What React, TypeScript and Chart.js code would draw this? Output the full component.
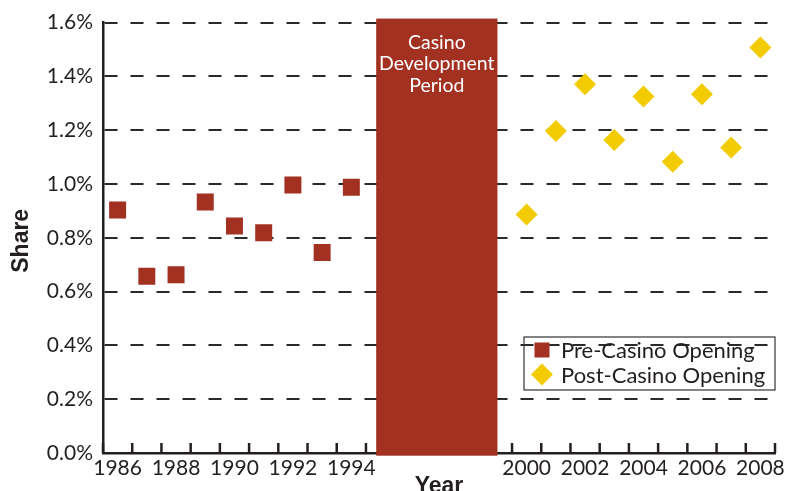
import React, { useEffect, useRef } from 'react';
import { Chart, registerables } from 'chart.js';

Chart.register(...registerables);

// ---- data ----
const preYears = [1986, 1987, 1988, 1989, 1990, 1991, 1992, 1993, 1994];
const preShare = [0.903, 0.657, 0.663, 0.933, 0.844, 0.819, 0.996, 0.745, 0.988];
const postYears = [2000, 2001, 2002, 2003, 2004, 2005, 2006, 2007, 2008];
const postShare = [0.887, 1.197, 1.371, 1.164, 1.325, 1.083, 1.334, 1.136, 1.507];
const xTickYears = [1986, 1988, 1990, 1992, 1994, 2000, 2002, 2004, 2006, 2008];
const yTickValues = [0, 0.2, 0.4, 0.6, 0.8, 1.0, 1.2, 1.4, 1.6];
const seriesNames = ['Pre-Casino Opening', 'Post-Casino Opening'];
const periodStart = 1994.85;
const periodEnd = 1999.0;
const periodLabel = ['Casino', 'Development', 'Period'];
const xTitle = 'Year';
const yTitle = 'Share';

const RED = '#a23122';
const YELLOW = '#f2cb00';
const INK = '#231f20';
const FONT = 'Lato, "Open Sans", sans-serif';
const BOLD_FONT = '"Liberation Sans", Arial, sans-serif';

const overlayPlugin = {
  id: 'overlay',
  beforeDatasetsDraw(chart: any) {
    const { ctx, chartArea, scales } = chart;
    const x = scales.x;
    const y = scales.y;
    ctx.save();
    // inward tick marks at year boundaries
    ctx.strokeStyle = INK;
    ctx.lineWidth = 2.5;
    for (let v = x.min; v <= x.max + 1e-9; v += 1) {
      const px = x.getPixelForValue(v);
      ctx.beginPath();
      ctx.moveTo(px, chartArea.bottom);
      ctx.lineTo(px, chartArea.bottom - 10);
      ctx.stroke();
    }
    // development period band
    const left = x.getPixelForValue(periodStart);
    const right = x.getPixelForValue(periodEnd);
    const top = y.getPixelForValue(1.615);
    const bottom = y.getPixelForValue(-0.01);
    ctx.fillStyle = RED;
    ctx.fillRect(left, top, right - left, bottom - top);
    ctx.fillStyle = '#ffffff';
    ctx.font = `19.5px ${FONT}`;
    ctx.textAlign = 'center';
    ctx.textBaseline = 'middle';
    periodLabel.forEach((t, i) => ctx.fillText(t, (left + right) / 2, top + 24 + i * 21.5));

    // legend (inside plot, no fill)
    const bx2 = chartArea.right;
    const bx1 = bx2 - 251;
    const by1 = chartArea.bottom - 116;
    const bh = 53;
    ctx.strokeStyle = '#333';
    ctx.lineWidth = 1.2;
    ctx.strokeRect(bx1, by1, bx2 - bx1, bh);
    const mx = bx1 + 18;
    ctx.fillStyle = RED;
    ctx.fillRect(mx - 7.5, by1 + 13 - 7.5, 15, 15);
    const dy = by1 + 37.5;
    ctx.fillStyle = YELLOW;
    ctx.beginPath();
    ctx.moveTo(mx, dy - 11);
    ctx.lineTo(mx + 11, dy);
    ctx.lineTo(mx, dy + 11);
    ctx.lineTo(mx - 11, dy);
    ctx.closePath();
    ctx.fill();
    ctx.fillStyle = INK;
    ctx.font = `22px ${FONT}`;
    ctx.textAlign = 'left';
    ctx.textBaseline = 'middle';
    ctx.fillText(seriesNames[0], bx1 + 37, by1 + 14);
    ctx.fillText(seriesNames[1], bx1 + 37, by1 + 39);
    ctx.restore();
  },
  afterDraw(chart: any) {
    const { ctx, chartArea } = chart;
    ctx.save();
    ctx.fillStyle = INK;
    ctx.font = `bold 23px ${BOLD_FONT}`;
    ctx.textAlign = 'center';
    ctx.textBaseline = 'middle';
    ctx.fillText(xTitle, (chartArea.left + chartArea.right) / 2, chartArea.bottom + 34);
    ctx.translate(22, (chartArea.top + chartArea.bottom) / 2 + 3);
    ctx.rotate(-Math.PI / 2);
    ctx.fillText(yTitle, 0, 0);
    ctx.restore();
  },
};

export default function App() {
  const ref = useRef<HTMLCanvasElement | null>(null);
  useEffect(() => {
    if (!ref.current) return;
    const chart = new Chart(ref.current, {
      type: 'scatter',
      data: {
        datasets: [
          {
            label: seriesNames[0],
            data: preYears.map((yr, i) => ({ x: yr, y: preShare[i] })),
            pointStyle: 'rect',
            pointRadius: 12,
            pointHoverRadius: 12,
            backgroundColor: RED,
            borderColor: RED,
            borderWidth: 0,
          },
          {
            label: seriesNames[1],
            data: postYears.map((yr, i) => ({ x: yr, y: postShare[i] })),
            pointStyle: 'rectRot',
            pointRadius: 11,
            pointHoverRadius: 11,
            backgroundColor: YELLOW,
            borderColor: YELLOW,
            borderWidth: 0,
          },
        ],
      },
      options: {
        responsive: false,
        animation: false,
        events: [],
        layout: { padding: { top: 16, right: 17, left: 0, bottom: 0 } },
        plugins: { legend: { display: false }, tooltip: { enabled: false } },
        scales: {
          x: {
            type: 'linear',
            min: 1985.5,
            max: 2008.5,
            afterBuildTicks: (s: any) => {
              s.ticks = xTickYears.map((v) => ({ value: v }));
            },
            afterFit: (s: any) => {
              s.height = 38;
            },
            grid: { display: false, drawTicks: false },
            border: { display: true, color: INK, width: 2.5 },
            ticks: {
              autoSkip: false,
              maxRotation: 0,
              padding: 3,
              color: INK,
              font: { family: FONT, size: 21 },
              callback: (v: any) => String(v),
            },
          },
          y: {
            min: 0,
            max: 1.6,
            afterBuildTicks: (s: any) => {
              s.ticks = yTickValues.map((v) => ({ value: v }));
            },
            afterFit: (s: any) => {
              s.width = 103;
            },
            grid: { color: '#2a2a2a', lineWidth: 2, drawTicks: false },
            border: { display: true, color: INK, width: 2.5, dash: [13, 13] },
            ticks: {
              padding: 10,
              color: INK,
              font: { family: FONT, size: 21 },
              callback: (v: any) => Number(v).toFixed(1) + '%',
            },
          },
        },
      },
      plugins: [overlayPlugin],
    } as any);
    return () => chart.destroy();
  }, []);
  return (
    <div style={{ position: 'absolute', left: 0, top: 0, width: 792, height: 491 }}>
      <canvas ref={ref} width={792} height={491} style={{ display: 'block' }} />
    </div>
  );
}
